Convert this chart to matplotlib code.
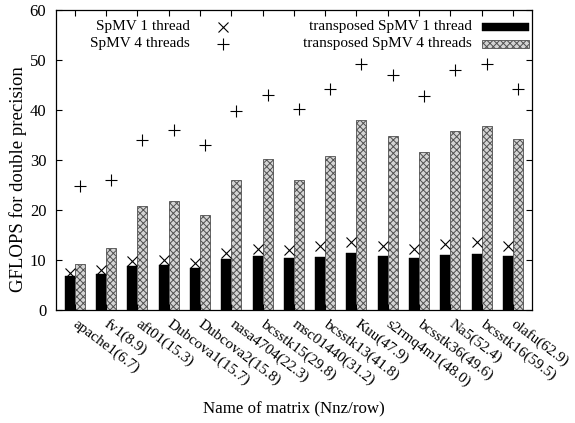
import numpy as np
import matplotlib
matplotlib.use("Agg")
import matplotlib.pyplot as plt
from matplotlib.patches import Rectangle

plt.rcParams["font.family"] = ["Liberation Serif", "DejaVu Serif"]
plt.rcParams["hatch.linewidth"] = 0.7

# matrix names with Nnz/row
matrices = ["apache1(6.7)", "fv1(8.9)", "aft01(15.3)", "Dubcova1(15.7)", "Dubcova2(15.8)",
            "nasa4704(22.3)", "bcsstk15(29.8)", "msc01440(31.2)", "bcsstk13(41.8)",
            "Kuu(47.9)", "s2rmq4m1(48.0)", "bcsstk36(49.6)", "Na5(52.4)",
            "bcsstk16(59.5)", "olafu(62.9)"]

# GFLOPS values
spmv_1 = [7.5, 8.0, 9.9, 10.0, 9.5, 11.5, 12.3, 12.1, 12.8, 13.6, 12.9, 12.3, 13.2, 13.6, 12.8]
spmv_4 = [24.8, 26.1, 34.0, 35.9, 33.0, 39.8, 42.9, 40.1, 44.1, 49.1, 47.0, 42.7, 47.9, 49.1, 44.1]
trans_1 = [6.9, 7.3, 8.9, 9.1, 8.5, 10.3, 10.8, 10.5, 10.7, 11.5, 10.9, 10.5, 11.1, 11.3, 10.9]
trans_4 = [9.3, 12.5, 20.8, 21.8, 19.0, 26.1, 30.1, 26.0, 30.8, 38.0, 34.7, 31.6, 35.7, 36.7, 34.2]

x = np.arange(len(matrices))
w = 0.32

fig = plt.figure(figsize=(5.75, 4.23), dpi=100)
ax = fig.add_axes([0.0974, 0.2671, 0.8273, 0.7093])

ax.bar(x - w / 2, trans_1, width=w, color="black", edgecolor="black", linewidth=0.3)
ax.bar(x + w / 2, trans_4, width=w, color="#d4d4d4", edgecolor="#505050",
       hatch="xxxxx", linewidth=0.6)
ax.plot(x - w / 2, spmv_1, linestyle="none", marker="x", markersize=7.5,
        markeredgewidth=0.8, color="black")
ax.plot(x + w / 2, spmv_4, linestyle="none", marker="+", markersize=9,
        markeredgewidth=0.8, color="black")

ax.set_xlim(-0.6, 14.6)
ax.set_ylim(0, 60)
ax.set_yticks(range(0, 61, 10))
ax.set_xticks(x)
ax.set_xticklabels(matrices, rotation=-37, ha="left", va="center",
                   rotation_mode="anchor", fontsize=11)
ax.tick_params(direction="in", length=4, width=0.8, top=True, right=True)
ax.tick_params(axis="y", pad=7, labelsize=12)
ax.tick_params(axis="x", pad=9)
for s in ax.spines.values():
    s.set_linewidth(0.9)

fig.text(0.032, 0.577, "GFLOPS for double precision", rotation=90,
         ha="center", va="center", fontsize=13.5)
fig.text(0.511, 0.033, "Name of matrix (Nnz/row)", ha="center", va="center", fontsize=12.2)

# gnuplot-like key: text right-aligned, sample to the right
tr = ax.transAxes
ax.text(0.282, 0.944, "SpMV 1 thread", transform=tr, ha="right", va="center", fontsize=11)
ax.text(0.282, 0.888, "SpMV 4 threads", transform=tr, ha="right", va="center", fontsize=11)
ax.plot([0.351], [0.944], transform=tr, marker="x", markersize=7.5,
        markeredgewidth=0.8, color="black")
ax.plot([0.351], [0.888], transform=tr, marker="+", markersize=9,
        markeredgewidth=0.8, color="black")
ax.text(0.874, 0.944, "transposed SpMV 1 thread", transform=tr, ha="right", va="center", fontsize=11)
ax.text(0.874, 0.888, "transposed SpMV 4 threads", transform=tr, ha="right", va="center", fontsize=11)
ax.add_patch(Rectangle((0.895, 0.930), 0.1, 0.028, transform=tr, facecolor="black",
                       edgecolor="black", linewidth=0.3))
ax.add_patch(Rectangle((0.895, 0.874), 0.1, 0.026, transform=tr, facecolor="#d4d4d4",
                       edgecolor="#505050", hatch="xxxxx", linewidth=0.6))

fig.savefig("out.png", dpi=100)
